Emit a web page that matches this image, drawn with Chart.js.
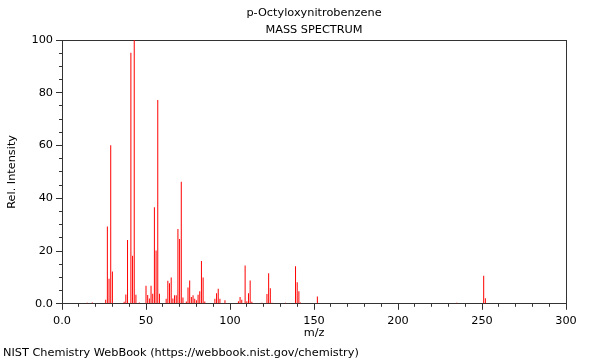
<!DOCTYPE html>
<html>
<head>
<meta charset="utf-8">
<script src="https://cdn.jsdelivr.net/npm/chart.js@4.4.1/dist/chart.umd.min.js"></script>
<style>
  html, body { margin: 0; padding: 0; background: #fff; }
</style>
</head>
<body>
<canvas id="spectrum" width="600" height="360"></canvas>
<script>
// Spectrum data (m/z and relative intensity)
const compoundName = 'p-Octyloxynitrobenzene';
const mzValues = [
  15, 18, 26, 27, 28, 29, 30, 37, 38, 39, 41, 42, 43, 44, 46,
  50, 51, 52, 53, 54, 55, 56, 57, 58, 62, 63, 64, 65, 66, 67, 68, 69, 70, 71, 72,
  74, 75, 76, 77, 78, 79, 80, 81, 82, 83, 84, 85, 91, 92, 93, 94, 97,
  105, 106, 107, 109, 110, 111, 112, 113, 119, 122, 123, 124, 125,
  133, 136, 139, 140, 141, 142, 152, 235, 251, 252
];
const relIntensity = [
  0.4, 0.5, 1.5, 29.3, 9.5, 60.1, 12.2, 0.8, 3.5, 24.2, 95.2, 18.2, 100, 3.4, 0.5,
  6.8, 3.3, 2.0, 6.8, 3.8, 36.6, 20.2, 77.3, 3.8, 1.9, 8.7, 7.8, 10.0, 2.0, 3.2, 3.2, 28.4, 24.6, 46.3, 2.4,
  0.9, 6.2, 8.8, 2.6, 3.2, 1.9, 1.3, 3.4, 4.8, 16.2, 10.0, 0.9, 1.9, 4.0, 5.7, 1.9, 1.3,
  1.0, 2.6, 1.5, 14.5, 1.0, 4.0, 8.8, 0.8, 0.4, 3.7, 11.6, 5.9, 0.4,
  0.4, 0.3, 14.2, 8.2, 4.8, 0.5, 2.8, 0.4, 10.6, 2.1
];
const xTickValues = [0, 50, 100, 150, 200, 250, 300];
const xTickLabels = ['0.0', '50', '100', '150', '200', '250', '300'];
const yTickValues = [0, 20, 40, 60, 80, 100];
const yTickLabels = ['0.0', '20', '40', '60', '80', '100'];

const FONT = 'DejaVu Sans';
const FS = 11.3;
const LINE = '#333';
const TEXT = '#000';

// frame / minor tick axes share these bits
function bareAxis(extra) {
  return Object.assign({
    type: 'linear',
    offset: false,
    ticks: { display: false },
    grid: { drawOnChartArea: false, drawTicks: false, offset: false, color: LINE },
    border: { display: true, color: LINE, width: 1 }
  }, extra);
}

new Chart(document.getElementById('spectrum'), {
  type: 'bar',
  data: {
    datasets: [{
      data: mzValues.map((m, i) => ({ x: m, y: relIntensity[i] })),
      backgroundColor: '#ff0000',
      borderWidth: 0,
      barThickness: 1,
      inflateAmount: 0,
      xAxisID: 'x',
      yAxisID: 'y'
    }]
  },
  options: {
    responsive: false,
    animation: false,
    layout: { padding: { left: 3, right: 0, top: 0, bottom: 0 } },
    plugins: {
      legend: { display: false },
      tooltip: { enabled: false },
      title: {
        display: true,
        fullSize: false,
        text: [compoundName, 'MASS SPECTRUM'],
        color: TEXT,
        font: { family: FONT, size: FS, weight: 'normal', lineHeight: 17 / FS },
        padding: { top: 4.5, bottom: 1.5 }
      },
      subtitle: {
        display: true,
        position: 'bottom',
        align: 'start',
        fullSize: true,
        text: 'NIST Chemistry WebBook (https://webbook.nist.gov/chemistry)',
        color: TEXT,
        font: { family: FONT, size: FS, lineHeight: 13.2 / FS },
        padding: { top: 0, bottom: 0 }
      }
    },
    scales: {
      x: {
        type: 'linear',
        position: 'bottom',
        min: 0,
        max: 300,
        offset: false,
        afterBuildTicks: s => { s.ticks = xTickValues.map(v => ({ value: v })); },
        ticks: {
          color: TEXT,
          font: { family: FONT, size: FS },
          padding: 4,
          maxRotation: 0,
          autoSkip: false,
          callback: v => xTickLabels[xTickValues.indexOf(v)]
        },
        grid: { drawOnChartArea: false, drawTicks: true, tickLength: 6, offset: false, color: LINE },
        border: { color: LINE, width: 1 },
        title: {
          display: true,
          text: 'm/z',
          color: TEXT,
          font: { family: FONT, size: FS, lineHeight: 13.2 / FS },
          padding: { top: 0, bottom: 7 }
        },
        afterFit: s => { s.height = 43; }
      },
      xMinor: bareAxis({
        position: 'bottom',
        min: 0,
        max: 300,
        weight: -1,
        ticks: { display: false, stepSize: 10 },
        grid: { drawOnChartArea: false, drawTicks: true, tickLength: 3, offset: false, color: LINE },
        border: { display: false },
        afterFit: s => { s.height = 0; }
      }),
      xTop: bareAxis({
        position: 'top',
        min: 0,
        max: 300,
        afterFit: s => { s.height = 0; }
      }),
      y: {
        type: 'linear',
        position: 'left',
        min: 0,
        max: 100,
        afterBuildTicks: s => { s.ticks = yTickValues.map(v => ({ value: v })); },
        ticks: {
          color: TEXT,
          font: { family: FONT, size: FS },
          padding: 3,
          callback: v => yTickLabels[yTickValues.indexOf(v)]
        },
        grid: { drawOnChartArea: false, drawTicks: true, tickLength: 6, color: LINE },
        border: { color: LINE, width: 1 },
        title: {
          display: true,
          text: 'Rel. Intensity',
          color: TEXT,
          font: { family: FONT, size: FS, lineHeight: 13.2 / FS },
          padding: { top: 2.4, bottom: 0 }
        },
        afterFit: s => { s.width = 59; }
      },
      yMinor: bareAxis({
        position: 'left',
        min: 0,
        max: 100,
        weight: -1,
        ticks: { display: false, stepSize: 5 },
        grid: { drawOnChartArea: false, drawTicks: true, tickLength: 3, color: LINE },
        border: { display: false },
        afterFit: s => { s.width = 0; }
      }),
      yRight: bareAxis({
        position: 'right',
        min: 0,
        max: 100,
        afterFit: s => { s.width = 34; }
      })
    }
  }
});
</script>
</body>
</html>
